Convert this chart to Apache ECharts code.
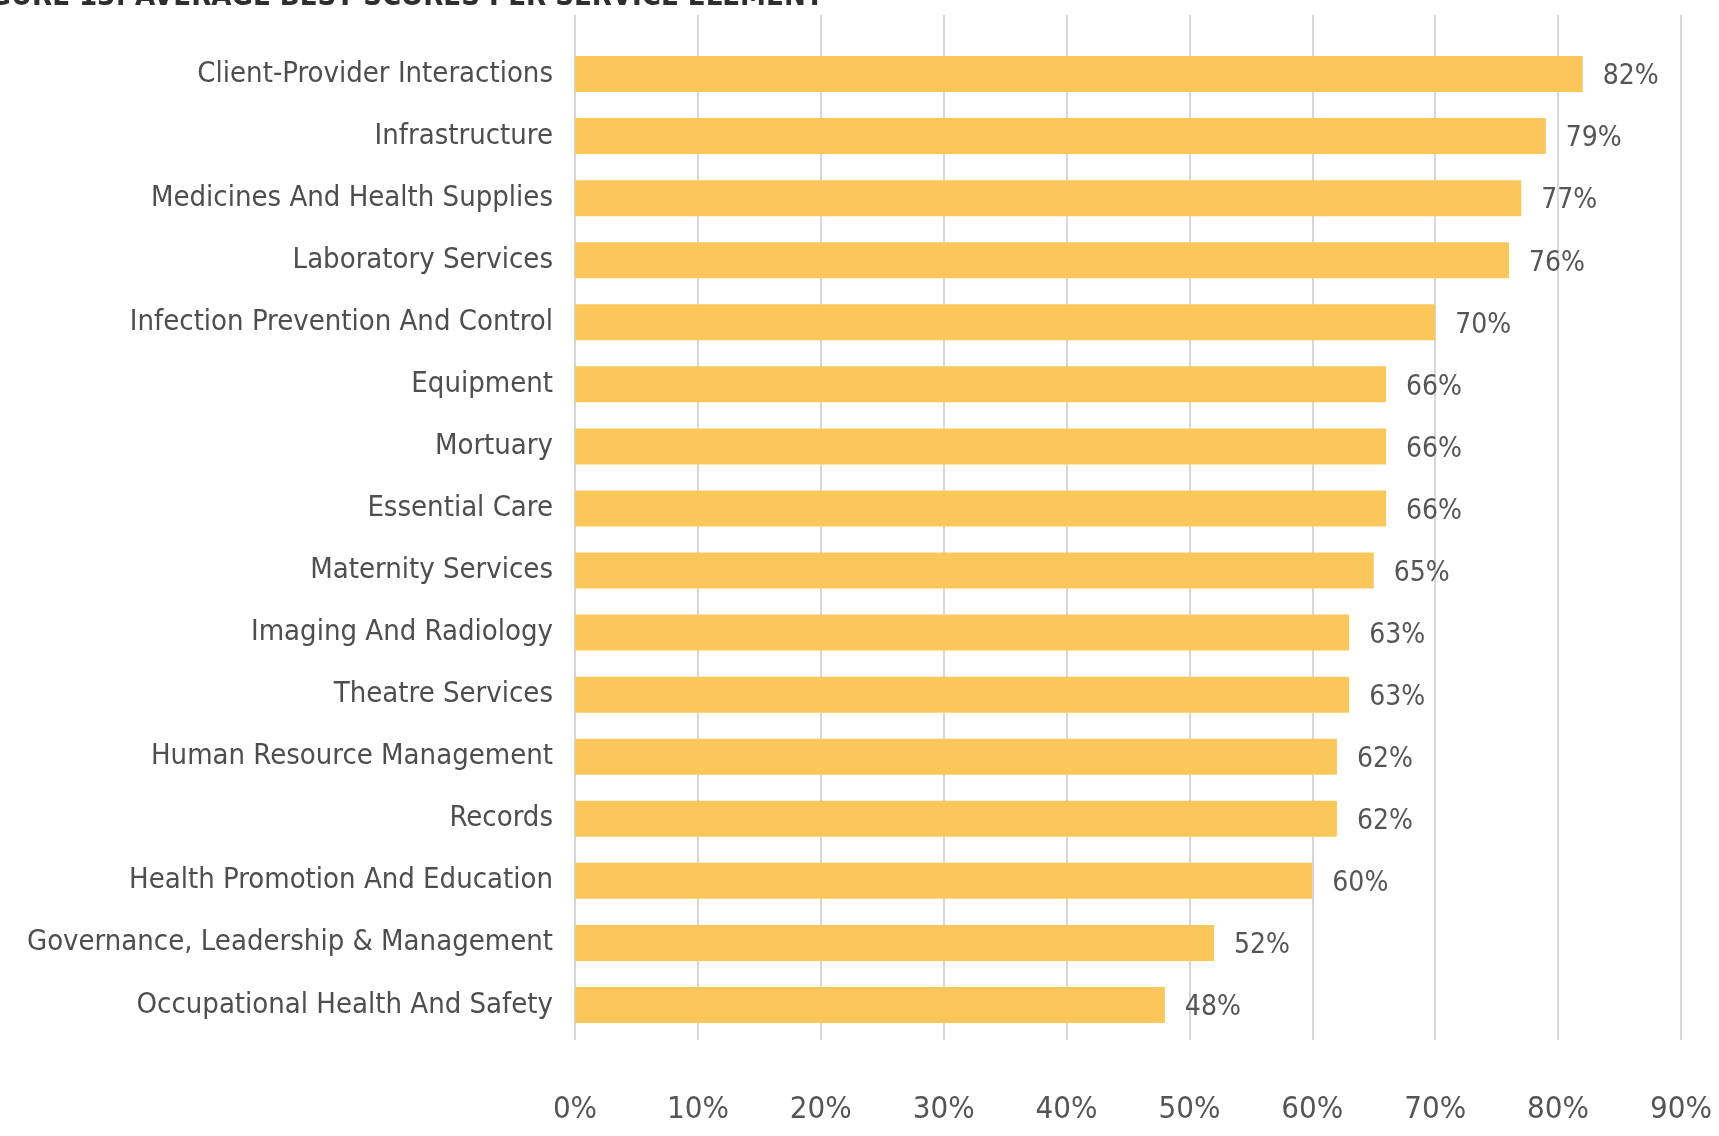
<!DOCTYPE html>
<html>
<head>
<meta charset="utf-8">
<title>Average best scores per service element</title>
<script src="https://cdn.jsdelivr.net/npm/echarts@6/dist/echarts.min.js"></script>
<style>
  html, body { margin: 0; padding: 0; background: #ffffff; }
  #chart { width: 1719px; height: 1136px; }
</style>
</head>
<body>
<div id="chart"></div>
<script>
// Service elements, listed top to bottom
const categories = [
  'Client-Provider Interactions',
  'Infrastructure',
  'Medicines And Health Supplies',
  'Laboratory Services',
  'Infection Prevention And Control',
  'Equipment',
  'Mortuary',
  'Essential Care',
  'Maternity Services',
  'Imaging And Radiology',
  'Theatre Services',
  'Human Resource Management',
  'Records',
  'Health Promotion And Education',
  'Governance, Leadership & Management',
  'Occupational Health And Safety'
];

// Average best score per element (%)
const scores = [82, 79, 77, 76, 70, 66, 66, 66, 65, 63, 63, 62, 62, 60, 52, 48];

// Value axis range and tick spacing (%)
const axisMin = 0;
const axisMax = 90;
const axisStep = 10;

const titleText = 'FIGURE 13: AVERAGE BEST SCORES PER SERVICE ELEMENT';

const labelFont = '"DejaVu Sans Condensed", "Liberation Sans Narrow", sans-serif';
const tickFont = '"Liberation Sans Narrow", "DejaVu Sans Condensed", sans-serif';

const chart = echarts.init(document.getElementById('chart'));

chart.setOption({
  animation: false,
  backgroundColor: '#ffffff',
  graphic: [{
    type: 'text',
    x: -38,
    y: -17,
    style: {
      text: titleText,
      font: 'bold 29px "DejaVu Sans Condensed", sans-serif',
      fill: '#2e2e2e'
    }
  }],
  grid: [
    // bars
    { left: 575, right: 38, top: 43, bottom: 100 },
    // taller frame carrying the vertical gridlines and tick labels
    { left: 575, right: 38, top: 15, bottom: 96 }
  ],
  xAxis: [
    {
      gridIndex: 0,
      type: 'value',
      min: axisMin, max: axisMax, interval: axisStep,
      axisLine: { show: false },
      axisTick: { show: false },
      axisLabel: { show: false },
      splitLine: { show: false }
    },
    {
      gridIndex: 1,
      type: 'value',
      min: axisMin, max: axisMax, interval: axisStep,
      axisLine: { show: false },
      axisTick: { show: false },
      axisLabel: {
        formatter: '{value}%',
        fontFamily: tickFont,
        fontSize: 31,
        color: '#555555',
        margin: 54
      },
      splitLine: { show: true, lineStyle: { color: '#c8c9cf', width: 1.5 } }
    }
  ],
  yAxis: [
    {
      gridIndex: 0,
      type: 'category',
      data: categories,
      inverse: true,
      axisLine: { show: false },
      axisTick: { show: false },
      axisLabel: {
        fontFamily: labelFont,
        fontSize: 29,
        color: '#4e4e4e',
        margin: 22
      }
    },
    {
      gridIndex: 1,
      type: 'value',
      show: false
    }
  ],
  series: [{
    type: 'bar',
    xAxisIndex: 0,
    yAxisIndex: 0,
    data: scores,
    barWidth: 36,
    itemStyle: { color: '#fcc75a' },
    label: {
      show: true,
      position: 'right',
      distance: 20,
      offset: [0, 3],
      formatter: '{c}%',
      fontFamily: labelFont,
      fontSize: 28,
      color: '#555555'
    }
  }]
});
</script>
</body>
</html>
